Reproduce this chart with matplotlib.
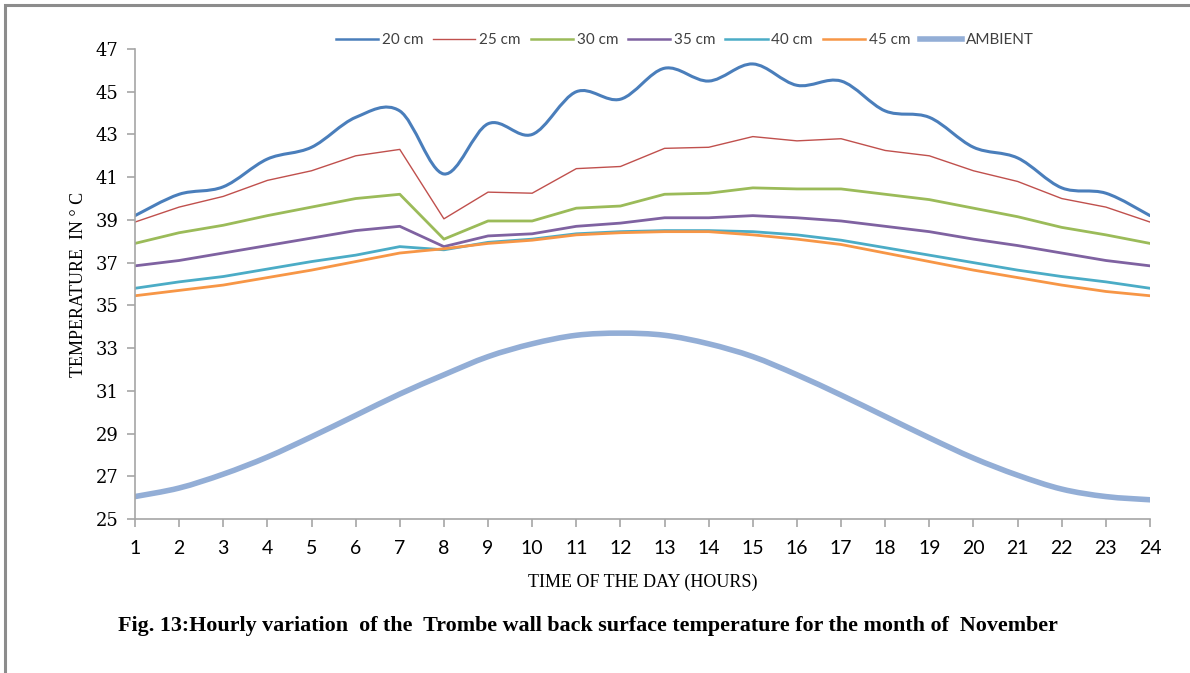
import matplotlib
matplotlib.use("Agg")
import matplotlib.pyplot as plt
import numpy as np
from matplotlib.path import Path
from matplotlib.patches import PathPatch, Rectangle
from matplotlib.lines import Line2D

hours = list(range(1, 25))

t20 = [39.2, 40.2, 40.55, 41.85, 42.4, 43.8, 44.1, 41.15, 43.5, 43.0, 45.0, 44.65,
       46.1, 45.5, 46.3, 45.3, 45.5, 44.1, 43.8, 42.4, 41.9, 40.5, 40.25, 39.2]
t25 = [38.9, 39.6, 40.1, 40.85, 41.3, 42.0, 42.3, 39.05, 40.3, 40.25, 41.4, 41.5,
       42.35, 42.4, 42.9, 42.7, 42.8, 42.25, 42.0, 41.3, 40.8, 40.0, 39.6, 38.9]
t30 = [37.9, 38.4, 38.75, 39.2, 39.6, 40.0, 40.2, 38.1, 38.95, 38.95, 39.55, 39.65,
       40.2, 40.25, 40.5, 40.45, 40.45, 40.2, 39.95, 39.55, 39.15, 38.65, 38.3, 37.9]
t35 = [36.85, 37.1, 37.45, 37.8, 38.15, 38.5, 38.7, 37.75, 38.25, 38.35, 38.7, 38.85,
       39.1, 39.1, 39.2, 39.1, 38.95, 38.7, 38.45, 38.1, 37.8, 37.45, 37.1, 36.85]
t40 = [35.8, 36.1, 36.35, 36.7, 37.05, 37.35, 37.75, 37.6, 37.95, 38.1, 38.35, 38.45,
       38.5, 38.5, 38.45, 38.3, 38.05, 37.7, 37.35, 37.0, 36.65, 36.35, 36.1, 35.8]
t45 = [35.45, 35.7, 35.95, 36.3, 36.65, 37.05, 37.45, 37.65, 37.9, 38.05, 38.3, 38.4,
       38.45, 38.45, 38.3, 38.1, 37.85, 37.45, 37.05, 36.65, 36.3, 35.95, 35.65, 35.45]
ambient = [26.05, 26.45, 27.1, 27.9, 28.85, 29.85, 30.85, 31.75, 32.6, 33.2, 33.6, 33.7,
           33.6, 33.2, 32.6, 31.75, 30.8, 29.8, 28.8, 27.85, 27.05, 26.4, 26.05, 25.9]

yticks = list(range(25, 48, 2))


def smooth_path(x, y):
    # excel-like smoothed line: cubic bezier through the points
    p = np.column_stack([x, y]).astype(float)
    n = len(p)
    verts = [p[0]]
    codes = [Path.MOVETO]
    for i in range(n - 1):
        p0 = p[i - 1] if i > 0 else p[i]
        p3 = p[i + 2] if i + 2 < n else p[i + 1]
        c1 = p[i] + (p[i + 1] - p0) / 6
        c2 = p[i + 1] - (p3 - p[i]) / 6
        verts += [c1, c2, p[i + 1]]
        codes += [Path.CURVE4] * 3
    return Path(verts, codes)


fig = plt.figure(figsize=(11.9, 6.73), dpi=100)
ax = fig.add_axes([135 / 1190, 1 - 519 / 673, 1015 / 1190, 470 / 673])

# outer frame (only top and left show)
fig.patches.append(Rectangle((5 / 1190, -0.1), 1.2, 1 - 5 / 673 + 0.1, transform=fig.transFigure,
                             fill=False, ec='#8c8c8c', lw=2.2))

series = [
    ('20 cm', t20, '#4a7ebb', 2.2, True),
    ('25 cm', t25, '#c0504d', 1.0, False),
    ('30 cm', t30, '#9bbb59', 2.0, False),
    ('35 cm', t35, '#7f62a1', 2.0, False),
    ('40 cm', t40, '#4bacc6', 2.0, False),
    ('45 cm', t45, '#f79646', 2.0, False),
    ('AMBIENT', ambient, '#93aed6', 4.0, True),
]

handles = []
for name, vals, col, lw, smooth in series:
    if smooth:
        ax.add_patch(PathPatch(smooth_path(hours, vals), fill=False, ec=col, lw=lw,
                               capstyle='round', joinstyle='round'))
    else:
        ax.plot(hours, vals, color=col, lw=lw, solid_joinstyle='round')
    handles.append(Line2D([], [], color=col, lw=min(lw, 1.8) if lw < 3 else lw))

ax.set_xlim(1, 24)
ax.set_ylim(25, 47)
ax.set_xticks(hours)
ax.set_yticks(yticks)
ax.set_xticklabels([str(h) for h in hours], fontfamily='Lato', fontsize=14)
ax.set_yticklabels([str(v) for v in yticks], fontfamily='DejaVu Serif', fontsize=13)

for s in ['top', 'right']:
    ax.spines[s].set_visible(False)
for s in ['left', 'bottom']:
    ax.spines[s].set_color('#a6a6a6')
    ax.spines[s].set_linewidth(1.2)
ax.tick_params(axis='both', direction='out', length=6, color='#a6a6a6', width=1.2)
ax.tick_params(axis='x', pad=9)
ax.tick_params(axis='y', pad=6)

ax.set_xlabel('TIME OF THE DAY (HOURS)', fontfamily='Liberation Serif', fontsize=13, labelpad=12)
ax.set_ylabel('TEMPERATURE  IN \u00b0 C', fontfamily='Liberation Serif', fontsize=13, labelpad=6)

fig.legend(handles, [s[0] for s in series], loc='center', bbox_to_anchor=(685 / 1190, 1 - 40 / 673),
           ncol=7, frameon=False, prop={'family': 'Lato', 'size': 11}, handlelength=2.75,
           handletextpad=0.26, columnspacing=0.65, labelcolor='#404040')

fig.text(118 / 1190, 1 - 626 / 673,
         'Fig. 13:Hourly variation  of the  Trombe wall back surface temperature for the month of  November',
         fontfamily='Liberation Serif', fontweight='bold', fontsize=15.8, va='center', ha='left')

fig.savefig('out.png', dpi=100)
